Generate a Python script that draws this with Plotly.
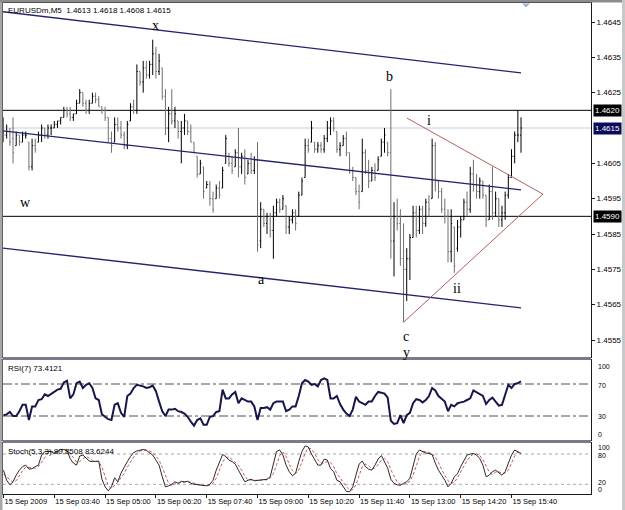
import plotly.graph_objects as go

# ---------------- data (EURUSDm, M5, 15 Sep 2009, bars from 02:20) ----------------
bar_open = [1.4616,1.4613,1.4614,1.4612,1.4610,1.4613,1.4611,1.4613,1.4611,1.4604,
1.4610,1.4611,1.4613,1.4615,1.4613,1.4615,1.4615,1.4616,1.4617,1.4618,
1.4620,1.4619,1.4618,1.4619,1.4622,1.4625,1.4622,1.4620,1.4622,1.4624,
1.4623,1.4621,1.4620,1.4618,1.4612,1.4611,1.4616,1.4615,1.4613,1.4610,
1.4617,1.4621,1.4620,1.4631,1.4628,1.4632,1.4630,1.4633,1.4636,1.4631,
1.4632,1.4624,1.4615,1.4619,1.4617,1.4617,1.4614,1.4615,1.4617,1.4614,
1.4611,1.4607,1.4602,1.4604,1.4598,1.4599,1.4595,1.4595,1.4598,1.4598,
1.4605,1.4607,1.4605,1.4604,1.4608,1.4604,1.4607,1.4602,1.4605,1.4603,
1.4606,1.4583,1.4592,1.4588,1.4590,1.4586,1.4591,1.4594,1.4592,1.4593,
1.4587,1.4589,1.4591,1.4590,1.4596,1.4601,1.4610,1.4611,1.4611,1.4609,
1.4610,1.4609,1.4612,1.4615,1.4617,1.4614,1.4609,1.4610,1.4612,1.4608,
1.4603,1.4601,1.4597,1.4597,1.4608,1.4603,1.4600,1.4603,1.4603,1.4607,
1.4611,1.4611,1.4608,1.4583,1.4590,1.4588,1.4578,1.4575,1.4578,1.4584,
1.4591,1.4586,1.4592,1.4588,1.4594,1.4595,1.4610,1.4600,1.4597,1.4592,
1.4590,1.4580,1.4587,1.4581,1.4587,1.4589,1.4594,1.4592,1.4602,1.4599,
1.4597,1.4600,1.4596,1.4589,1.4597,1.4591,1.4595,1.4589,1.4591,1.4596,
1.4601,1.4607,1.4613,1.4613]
bar_high = [1.4618,1.4616,1.4615,1.4618,1.4614,1.4613,1.4614,1.4614,1.4611,1.4612,
1.4612,1.4614,1.4616,1.4615,1.4616,1.4616,1.4617,1.4617,1.4618,1.4621,
1.4621,1.4621,1.4619,1.4623,1.4626,1.4625,1.4623,1.4623,1.4625,1.4625,
1.4624,1.4621,1.4621,1.4618,1.4614,1.4618,1.4618,1.4617,1.4614,1.4617,
1.4622,1.4623,1.4633,1.4631,1.4634,1.4634,1.4634,1.4640,1.4638,1.4636,
1.4632,1.4626,1.4621,1.4626,1.4621,1.4617,1.4617,1.4619,1.4617,1.4616,
1.4611,1.4607,1.4606,1.4604,1.4600,1.4600,1.4597,1.4599,1.4600,1.4604,
1.4613,1.4608,1.4607,1.4609,1.4615,1.4608,1.4609,1.4606,1.4608,1.4607,
1.4611,1.4594,1.4592,1.4591,1.4591,1.4593,1.4595,1.4595,1.4596,1.4593,
1.4590,1.4592,1.4592,1.4597,1.4601,1.4612,1.4612,1.4617,1.4611,1.4611,
1.4611,1.4613,1.4617,1.4618,1.4618,1.4614,1.4611,1.4613,1.4614,1.4608,
1.4604,1.4601,1.4599,1.4612,1.4609,1.4606,1.4604,1.4605,1.4607,1.4612,
1.4615,1.4611,1.4626,1.4594,1.4595,1.4592,1.4588,1.4581,1.4585,1.4593,
1.4593,1.4593,1.4593,1.4595,1.4596,1.4612,1.4611,1.4600,1.4598,1.4595,
1.4592,1.4592,1.4587,1.4589,1.4590,1.4595,1.4597,1.4604,1.4606,1.4602,
1.4601,1.4600,1.4596,1.4599,1.4604,1.4597,1.4595,1.4593,1.4597,1.4602,
1.4609,1.4614,1.4620,1.4618]
bar_low = [1.4611,1.4612,1.4610,1.4605,1.4610,1.4610,1.4611,1.4612,1.4603,1.4603,
1.4608,1.4611,1.4611,1.4612,1.4612,1.4613,1.4615,1.4615,1.4616,1.4618,
1.4618,1.4617,1.4617,1.4619,1.4622,1.4621,1.4619,1.4619,1.4622,1.4622,
1.4621,1.4619,1.4617,1.4611,1.4608,1.4611,1.4614,1.4612,1.4609,1.4609,
1.4617,1.4619,1.4619,1.4627,1.4625,1.4629,1.4629,1.4630,1.4629,1.4630,
1.4623,1.4613,1.4611,1.4616,1.4615,1.4612,1.4605,1.4613,1.4613,1.4611,
1.4608,1.4601,1.4602,1.4595,1.4598,1.4593,1.4591,1.4595,1.4595,1.4598,
1.4605,1.4604,1.4602,1.4604,1.4601,1.4602,1.4599,1.4602,1.4602,1.4602,
1.4580,1.4581,1.4587,1.4585,1.4584,1.4578,1.4590,1.4591,1.4592,1.4585,
1.4585,1.4588,1.4586,1.4590,1.4596,1.4601,1.4608,1.4611,1.4608,1.4608,
1.4608,1.4608,1.4611,1.4613,1.4614,1.4608,1.4607,1.4610,1.4607,1.4602,
1.4600,1.4596,1.4592,1.4597,1.4602,1.4598,1.4600,1.4600,1.4603,1.4607,
1.4608,1.4607,1.4578,1.4573,1.4586,1.4576,1.4560,1.4566,1.4572,1.4584,
1.4584,1.4585,1.4585,1.4587,1.4590,1.4595,1.4597,1.4595,1.4591,1.4588,
1.4577,1.4577,1.4574,1.4580,1.4584,1.4589,1.4590,1.4591,1.4597,1.4595,
1.4595,1.4595,1.4587,1.4589,1.4589,1.4590,1.4587,1.4587,1.4589,1.4595,
1.4601,1.4605,1.4611,1.4608]
bar_close = [1.4613,1.4614,1.4611,1.4608,1.4613,1.4611,1.4613,1.4613,1.4604,1.4610,
1.4609,1.4613,1.4615,1.4613,1.4615,1.4615,1.4616,1.4617,1.4618,1.4620,
1.4619,1.4618,1.4619,1.4622,1.4625,1.4622,1.4620,1.4622,1.4624,1.4623,
1.4621,1.4620,1.4618,1.4612,1.4610,1.4616,1.4615,1.4613,1.4610,1.4616,
1.4621,1.4620,1.4631,1.4628,1.4632,1.4630,1.4633,1.4636,1.4631,1.4634,
1.4624,1.4615,1.4619,1.4617,1.4619,1.4614,1.4615,1.4617,1.4614,1.4611,
1.4608,1.4602,1.4605,1.4597,1.4599,1.4595,1.4592,1.4598,1.4596,1.4603,
1.4612,1.4605,1.4603,1.4608,1.4604,1.4607,1.4601,1.4605,1.4603,1.4606,
1.4582,1.4592,1.4588,1.4590,1.4586,1.4591,1.4594,1.4592,1.4595,1.4587,
1.4589,1.4591,1.4588,1.4596,1.4600,1.4610,1.4609,1.4615,1.4609,1.4610,
1.4609,1.4612,1.4615,1.4617,1.4615,1.4609,1.4610,1.4612,1.4608,1.4603,
1.4601,1.4597,1.4594,1.4608,1.4603,1.4600,1.4603,1.4601,1.4606,1.4611,
1.4613,1.4608,1.4583,1.4590,1.4588,1.4578,1.4575,1.4578,1.4584,1.4591,
1.4586,1.4592,1.4588,1.4594,1.4592,1.4610,1.4600,1.4597,1.4592,1.4590,
1.4580,1.4588,1.4576,1.4587,1.4589,1.4594,1.4592,1.4602,1.4599,1.4597,
1.4600,1.4596,1.4589,1.4597,1.4591,1.4595,1.4589,1.4591,1.4596,1.4601,
1.4607,1.4613,1.4613,1.4615]

rsi7 = [31,32,35,30,30,36,44,44,25,42,42,50,51,57,55,58,61,63,64,72,
74,52,57,71,73,65,69,71,65,52,50,32,29,26,25,44,46,34,29,55,
58,65,69,68,67,65,66,68,61,48,36,30,38,38,39,36,35,33,29,23,
18,25,27,19,19,29,30,35,36,63,52,52,57,60,46,52,50,48,48,42,
25,40,40,41,38,46,48,48,48,36,38,42,42,55,71,75,73,69,70,67,
75,77,75,52,52,55,45,38,33,30,38,54,48,46,44,48,48,55,60,59,
58,53,24,20,21,31,21,31,34,46,51,50,47,50,55,65,62,55,52,48,
36,44,42,46,47,48,50,52,62,60,57,55,45,50,53,48,43,44,57,69,
65,70,71,73.4121]

stoch_main = [48,28,19,25,38,48,55,58,50,51,55,58,78,85,85,85,81,85,89,89,
87,71,62,58,76,78,71,66,65,65,66,30,15,7,15,33,25,42,55,65,
75,83,86,88,89,87,83,78,68,58,35,15,17,20,25,22,26,25,26,22,
20,19,18,17,17,20,28,48,65,79,75,68,65,60,48,35,25,28,30,27,
28,28,30,30,35,58,85,88,78,58,45,37,42,65,85,96,94,80,70,58,
58,70,68,51,45,28,25,15,6,5,15,38,60,66,55,50,48,58,70,77,
66,52,30,22,19,18,22,25,32,58,80,88,85,82,81,79,62,48,38,28,
15,22,35,41,55,68,78,80,81,78,71,58,35,38,45,48,42,38,45,62,
78,88,85,80.8508]
stoch_signal = [40,35,30,24,27,37,47,54,54,53,52,55,64,74,82,85,84,84,85,88,
88,82,73,64,65,71,75,72,67,65,65,54,37,17,12,18,24,33,41,54,
65,74,81,86,88,88,86,83,76,68,54,36,22,17,21,22,24,24,25,24,
22,20,19,18,17,18,22,32,47,64,73,74,69,64,58,48,36,29,28,28,
28,28,29,29,32,41,59,77,84,75,60,47,41,48,64,82,92,90,81,69,
62,62,65,63,55,41,33,23,15,9,9,19,38,55,60,57,51,52,59,68,
71,65,49,35,24,20,20,22,26,38,57,75,84,85,83,81,74,63,49,38,
27,22,24,33,44,55,67,75,80,80,77,69,55,44,39,44,45,42,42,48,
62,76,84,83.6244]

tick_bars = [0, 16, 32, 48, 64, 80, 96, 112, 128, 144, 160]
tick_labels = ["15 Sep 2009", "15 Sep 03:40", "15 Sep 05:00", "15 Sep 06:20",
               "15 Sep 07:40", "15 Sep 09:00", "15 Sep 10:20", "15 Sep 11:40",
               "15 Sep 13:00", "15 Sep 14:20", "15 Sep 15:40"]
price_ticks = [1.4645, 1.4635, 1.4625, 1.4605, 1.4595, 1.4585, 1.4575, 1.4565, 1.4555]

# trend lines: (bar, price) end points as drawn on the chart
channel_top = ([-0.16, 163.0], [1.46479, 1.46306])
channel_mid = ([-0.16, 163.0], [1.46142, 1.45975])
channel_low = ([-0.16, 163.0], [1.45810, 1.45641])
tri_upper = ([127.1, 169.9], [1.46178, 1.45963])
tri_lower = ([126.1, 169.9], [1.45601, 1.45963])
level_lines = [1.4620, 1.4590]
bid_line = 1.4615

wave_labels = ["x", "b", "i", "w", "a", "ii", "c", "y"]
wave_bar = [48.0, 121.7, 134.0, 6.8, 81.4, 142.8, 126.8, 126.8]
wave_price = [1.46439, 1.46297, 1.46170, 1.45938, 1.45720, 1.45697, 1.45561, 1.45516]

# ---------------- layout helpers ----------------
W, H = 625, 510
def px(x):
    return x / W
def py(y):
    return 1 - y / H

X0, X1 = 3, 591
MAIN = (3, 357)
RSIP = (360, 440)
STOP = (443, 494.4)

idx = list(range(len(bar_close)))
fig = go.Figure()

fig.add_trace(go.Ohlc(
    x=idx, open=bar_open, high=bar_high, low=bar_low, close=bar_close,
    xaxis="x", yaxis="y", tickwidth=0.33,
    increasing=dict(line=dict(color="#000000", width=1)),
    decreasing=dict(line=dict(color="#6e6e6e", width=1)),
    showlegend=False, hoverinfo="skip"))

for xs, ys in (channel_top, channel_mid, channel_low):
    fig.add_trace(go.Scatter(x=xs, y=ys, mode="lines", xaxis="x", yaxis="y",
                             line=dict(color="#24246e", width=1.4),
                             showlegend=False, hoverinfo="skip"))
for xs, ys in (tri_upper, tri_lower):
    fig.add_trace(go.Scatter(x=xs, y=ys, mode="lines", xaxis="x", yaxis="y",
                             line=dict(color="#b06060", width=1),
                             showlegend=False, hoverinfo="skip"))

fig.add_trace(go.Scatter(x=idx, y=rsi7, mode="lines", xaxis="x2", yaxis="y2",
                         line=dict(color="#16164a", width=2),
                         showlegend=False, hoverinfo="skip"))
fig.add_trace(go.Scatter(x=idx, y=stoch_signal, mode="lines", xaxis="x3", yaxis="y3",
                         line=dict(color="#c85a5a", width=1, dash="3px,2px"),
                         showlegend=False, hoverinfo="skip"))
fig.add_trace(go.Scatter(x=idx, y=stoch_main, mode="lines", xaxis="x3", yaxis="y3",
                         line=dict(color="#2a2a2a", width=1),
                         showlegend=False, hoverinfo="skip"))

shapes = []
for lv in level_lines:
    shapes.append(dict(type="line", xref="x domain", yref="y", x0=0, x1=1, y0=lv, y1=lv,
                       line=dict(color="#000000", width=1), layer="below"))
shapes.append(dict(type="line", xref="x domain", yref="y", x0=0, x1=1, y0=bid_line, y1=bid_line,
                   line=dict(color="#bcd0dc", width=1), layer="below"))
for lv in (70, 30):
    shapes.append(dict(type="line", xref="x2 domain", yref="y2", x0=0, x1=1, y0=lv, y1=lv,
                       line=dict(color="#505050", width=1, dash="dashdot"), layer="below"))
for lv in (80, 20):
    shapes.append(dict(type="line", xref="x3 domain", yref="y3", x0=0, x1=1, y0=lv, y1=lv,
                       line=dict(color="#a8a8a8", width=1, dash="dot"), layer="below"))
# window frame & panel separators
shapes.append(dict(type="rect", xref="paper", yref="paper", x0=0, x1=px(2.5), y0=0, y1=1,
                   fillcolor="#a8a8a8", line=dict(width=0)))
shapes.append(dict(type="rect", xref="paper", yref="paper", x0=0, x1=1, y0=py(2.5), y1=1,
                   fillcolor="#8c8c8c", line=dict(width=0)))
shapes.append(dict(type="rect", xref="paper", yref="paper", x0=px(622), x1=1, y0=0, y1=1,
                   fillcolor="#c8c8c8", line=dict(width=0)))
for a, b in ((MAIN[1], RSIP[0]), (RSIP[1], STOP[0])):
    shapes.append(dict(type="rect", xref="paper", yref="paper", x0=px(X0), x1=px(X1),
                       y0=py(b), y1=py(a), fillcolor="#7a7a8c", line=dict(width=0)))
# chart-shift marker
shapes.append(dict(type="path", xref="paper", yref="paper",
                   path=f"M {px(522)} {py(3.5)} L {px(530)} {py(3.5)} L {px(526)} {py(7.5)} Z",
                   fillcolor="#9db4cf", line=dict(width=0)))

small = dict(family="Liberation Sans, Arial", size=8, color="#000000")
tiny = dict(family="Liberation Sans, Arial", size=7, color="#000000")
ann = []
ann.append(dict(text="EURUSDm,M5  1.4613 1.4618 1.4608 1.4615", xref="paper", yref="paper",
                x=px(6), y=py(10), xanchor="left", yanchor="middle", showarrow=False, font=small))
ann.append(dict(text="RSI(7) 73.4121", xref="paper", yref="paper",
                x=px(6), y=py(368), xanchor="left", yanchor="middle", showarrow=False, font=small))
ann.append(dict(text="Stoch(5,3,3) 80.8508 83.6244", xref="paper", yref="paper",
                x=px(6), y=py(451), xanchor="left", yanchor="middle", showarrow=False, font=small))
for t, xb, yp in zip(wave_labels, wave_bar, wave_price):
    ann.append(dict(text=t, x=xb, y=yp, xref="x", yref="y", showarrow=False,
                    font=dict(family="Liberation Serif, Times New Roman", size=14, color="#000000")))
for lv, bg in ((1.4620, "#000000"), (bid_line, "#0a0a5a"), (1.4590, "#000000")):
    ann.append(dict(text=f"{lv:.4f}", x=px(593), y=lv, xref="paper", yref="y",
                    xanchor="left", yanchor="middle", showarrow=False, bgcolor=bg,
                    borderpad=1, font=dict(family="Liberation Sans, Arial", size=8, color="#ffffff")))
for lbl, ypix in (("100", 366), ("70", 385), ("30", 416), ("0", 434.5),
                  ("100", 447), ("80", 455.5), ("20", 482), ("0", 489.5)):
    ann.append(dict(text=lbl, x=px(596), y=py(ypix), xref="paper", yref="paper",
                    xanchor="left", yanchor="middle", showarrow=False, font=tiny))

axis_common = dict(showgrid=False, zeroline=False, showline=True, mirror=True,
                   linecolor="#1a1a1a", linewidth=1, automargin=False)
xrange = [-0.16, 185.04]
fig.update_layout(
    width=W, height=H, autosize=False,
    margin=dict(l=0, r=0, t=0, b=0, pad=0),
    paper_bgcolor="#ffffff", plot_bgcolor="#ffffff",
    showlegend=False,
    xaxis=dict(domain=[px(X0), px(X1)], range=xrange, anchor="y", showticklabels=False,
               ticks="", rangeslider=dict(visible=False), **axis_common),
    xaxis2=dict(domain=[px(X0), px(X1)], range=xrange, anchor="y2", matches="x",
                showticklabels=False, ticks="", **axis_common),
    xaxis3=dict(domain=[px(X0), px(X1)], range=xrange, anchor="y3", matches="x",
                tickmode="array", tickvals=tick_bars, ticktext=tick_labels,
                ticks="outside", ticklen=3, tickcolor="#1a1a1a", tickangle=0,
                ticklabelposition="outside right",
                tickfont=dict(family="Liberation Sans, Arial", size=7.5, color="#000000"),
                **axis_common),
    yaxis=dict(domain=[py(MAIN[1]), py(MAIN[0])], range=[1.455019, 1.465038], anchor="x",
               side="right", tickmode="array", tickvals=price_ticks,
               ticktext=[f"{v:.4f}" for v in price_ticks], ticks="outside", ticklen=3,
               tickcolor="#1a1a1a", tickfont=dict(family="Liberation Sans, Arial", size=8,
                                                   color="#000000"), **axis_common),
    yaxis2=dict(domain=[py(RSIP[1]), py(RSIP[0])], range=[0, 100], anchor="x2",
                showticklabels=False, ticks="", **axis_common),
    yaxis3=dict(domain=[py(STOP[1]), py(STOP[0])], range=[0, 101.8], anchor="x3",
                showticklabels=False, ticks="", **axis_common),
    shapes=shapes, annotations=ann,
)

fig.write_html("out.html")
